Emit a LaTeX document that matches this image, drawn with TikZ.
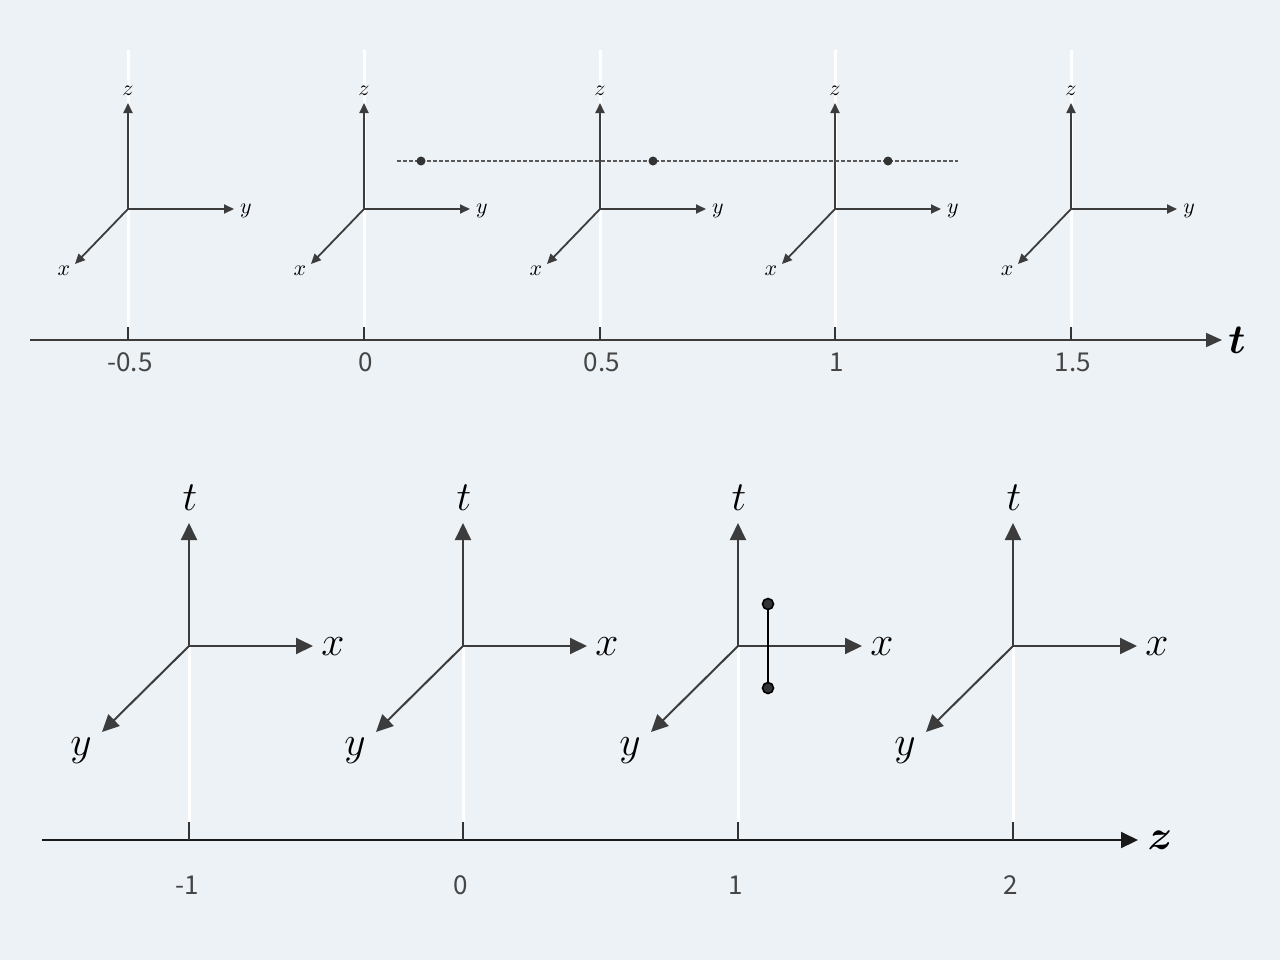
\documentclass[tikz,border=0pt]{standalone}
\usepackage{fontspec}
\usepackage{amsmath,bm}
\newfontfamily\tickfont{Noto Sans CJK JP}
\usetikzlibrary{arrows.meta}
\definecolor{bg}{HTML}{EDF2F6}
\definecolor{axisgray}{HTML}{3C3C3C}
\definecolor{ticktext}{HTML}{454545}
\definecolor{dotgray}{HTML}{333333}

\begin{document}
\begin{tikzpicture}[x=0.5pt,y=-0.5pt,
	small axis/.style={draw=axisgray,line width=0.9pt,-{Triangle[length=5pt,width=4.5pt]}},
	big axis/.style={draw=axisgray,line width=1pt,-{Triangle[length=8.5pt,width=8pt]}},
	time axis/.style={draw=axisgray,line width=1pt,-{Triangle[length=8pt,width=7pt]}},
	guide/.style={draw=white,line width=1.5pt},
	tickmark/.style={draw=black!80,line width=0.8pt},
	small label/.style={inner sep=0pt,font=\fontsize{11}{12}\selectfont},
	big label/.style={inner sep=0pt,font=\fontsize{20}{22}\selectfont},
	tick label/.style={inner sep=0pt,text=ticktext,font=\tickfont\fontsize{13}{15}\selectfont},
	dot/.style={circle,fill=dotgray,inner sep=0pt,minimum size=4.5pt}]
	\fill[bg] (0,0) rectangle (1280,960);

	% top row: frames in time
	\coordinate (ta) at (30,340);
	\coordinate (tb) at (1222,340);
	\draw[time axis] (ta) -- (tb);
	\node[big label] (tlab) at (1237,340) {$\bm{t}$};
	\foreach \cx/\lab [count=\i] in {128/-0.5,364/0,600/0.5,835/1,1071/1.5} {
		\coordinate (tt\i) at (\cx,327);
		\coordinate (tw\i) at (\cx,50);
		\coordinate (ts\i) at (\cx,340);
		\draw[guide] (tw\i) -- (tt\i);
		\draw[tickmark] (tt\i) -- (ts\i);
		\node[tick label] (tl\i) at (\cx+2,362) {\lab};
		\coordinate (o\i) at (\cx,209);
		\coordinate (zt\i) at (\cx,103);
		\coordinate (yt\i) at (\cx+106,209);
		\coordinate (xt\i) at (\cx-53,264);
		\draw[small axis] (o\i) -- (zt\i);
		\draw[small axis] (o\i) -- (yt\i);
		\draw[small axis] (o\i) -- (xt\i);
		\node[small label] (zl\i) at (\cx,91) {$z$};
		\node[small label] (yl\i) at (\cx+118,211) {$y$};
		\node[small label] (xl\i) at (\cx-64,271) {$x$};
	}
	\coordinate (da) at (397,161);
	\coordinate (db) at (958,161);
	\draw[draw=black!65,line width=0.6pt,dash pattern=on 1.8pt off 1.2pt] (da) -- (db);
	\node[dot] (p1) at (421,161) {};
	\node[dot] (p2) at (653,161) {};
	\node[dot] (p3) at (888,161) {};

	% bottom row: frames along z
	\coordinate (za) at (42,840);
	\coordinate (zb) at (1138,840);
	\draw[big axis,draw=black!90] (za) -- (zb);
	\node[big label] (zlab) at (1160,840) {$\bm{z}$};
	\foreach \cx/\lab [count=\i] in {189/-1,463/0,738/1,1013/2} {
		\coordinate (bt\i) at (\cx,822);
		\coordinate (bs\i) at (\cx,840);
		\coordinate (q\i) at (\cx,646);
		\draw[guide] (q\i) -- (bt\i);
		\draw[tickmark] (bt\i) -- (bs\i);
		\node[tick label] (bl\i) at (\cx-2,885) {\lab};
		\coordinate (tu\i) at (\cx,523);
		\coordinate (xr\i) at (\cx+124,646);
		\coordinate (yd\i) at (\cx-87,732);
		\draw[big axis] (q\i) -- (tu\i);
		\draw[big axis] (q\i) -- (xr\i);
		\draw[big axis] (q\i) -- (yd\i);
		\node[big label] (tn\i) at (\cx+1,498) {$t$};
		\node[big label] (xn\i) at (\cx+144,647) {$x$};
		\node[big label] (yn\i) at (\cx-108,751) {$y$};
	}
	\node[circle,draw=black,fill=dotgray,line width=0.8pt,inner sep=0pt,minimum size=5.5pt] (s1) at (768,604) {};
	\node[circle,draw=black,fill=dotgray,line width=0.8pt,inner sep=0pt,minimum size=5.5pt] (s2) at (768,688) {};
	\draw[black,line width=1.1pt] (s1) -- (s2);
\end{tikzpicture}
\end{document}
